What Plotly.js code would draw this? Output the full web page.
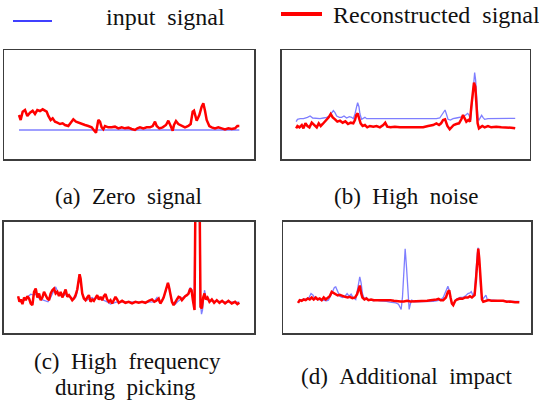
<!DOCTYPE html>
<html><head><meta charset="utf-8">
<script src="https://cdn.plot.ly/plotly-3.0.1.min.js"></script>
<style>html,body{margin:0;padding:0;background:#fff}#chart{width:539px;height:407px}</style>
</head><body><div id="chart"></div>
<script>
// ---- Data (sample index, amplitude in arbitrary units) ----
// (a) Zero signal
const aInputT = [0, 661];
const aInput = [0, 0];
const aReconT = [0,5,11,18,25,33,41,48,55,63,71,78,83,88,95,101,108,115,123,131,138,148,155,163,171,178,188,198,208,218,226,231,238,243,248,253,258,268,278,288,298,308,318,328,338,348,355,363,373,383,393,401,408,413,421,431,441,448,455,461,465,471,478,488,498,508,515,521,525,533,541,548,553,558,563,571,578,588,598,608,618,628,638,648,655,661];
const aRecon = [45,30,55,60,42,52,58,48,60,57,62,58,55,42,30,35,25,22,18,20,15,12,20,32,25,22,20,15,12,8,-2,-8,30,25,8,2,12,8,8,10,5,8,5,7,3,0,5,8,5,8,8,12,25,12,5,8,15,28,12,-2,15,27,18,12,8,12,18,55,58,28,45,70,80,58,30,12,8,5,8,5,2,5,3,5,12,12];

// (b) High noise
const bInputT = [0,4,12,22,34,42,50,62,72,82,92,100,107,112,117,122,130,137,144,152,160,167,172,177,182,185,189,192,197,202,207,212,222,242,262,282,302,322,342,362,382,402,422,432,438,444,448,452,457,464,472,482,492,502,510,516,520,525,530,534,537,540,544,547,550,554,558,562,567,577,592,612,632,647,659];
const bInput = [17,24,26,26,30,34,28,26,26,28,30,34,44,50,44,34,30,30,34,28,32,30,26,40,62,74,62,40,24,26,30,26,26,26,26,26,26,25,26,26,25,26,26,28,37,50,52,40,24,22,26,28,30,32,37,42,37,22,82,142,164,142,82,27,22,32,36,30,24,26,26,26,26,26,27];
const bReconT = [0,4,10,17,22,28,34,40,47,54,62,68,74,80,87,92,98,104,110,117,124,132,140,148,156,164,172,177,181,185,189,194,200,207,214,222,232,242,252,262,268,274,284,297,312,327,342,362,382,397,412,422,430,436,442,448,455,462,468,474,482,490,497,502,507,512,518,523,527,531,535,539,542,546,550,554,560,567,577,587,602,617,632,647,659];
const bRecon = [-3,4,0,7,-3,12,4,0,14,7,0,12,4,10,17,22,30,40,30,24,17,20,14,18,10,14,12,22,37,42,27,12,4,7,0,4,2,4,0,7,14,2,0,2,0,0,0,2,0,4,7,12,7,12,22,24,4,-6,0,7,10,12,24,37,27,17,22,17,62,112,134,122,72,12,-3,0,4,0,4,0,2,0,0,-1,-3];

// (c) High frequency during picking
const cInputT = [0,8,16,23,30,38,46,53,60,68,76,83,90,98,106,113,120,128,136,143,150,158,166,173,178,182,185,188,193,200,208,216,223,230,238,246,253,260,268,278,288,298,308,328,348,368,388,408,418,424,430,438,444,449,452,456,460,466,473,480,488,496,504,512,518,522,526,530,534,544,548,552,555,558,561,564,568,576,588,608,628,648,666];
const cInput = [13,5,3,10,17,23,20,23,13,7,5,3,0,13,30,45,27,23,17,23,20,13,10,13,30,63,80,67,25,7,5,10,13,7,13,10,7,5,0,-7,-3,0,0,-1,-1,-1,-1,0,13,0,-3,13,30,53,55,40,13,-3,-7,0,7,13,17,25,43,37,10,-20,475,475,5,-37,-25,20,35,20,7,3,3,1,-1,-1,-1];
const cReconT = [0,4,8,13,18,23,28,33,38,43,48,53,58,63,68,73,78,83,88,93,98,103,108,113,118,123,128,133,138,143,148,153,158,163,168,173,178,182,185,188,193,198,203,208,213,218,223,228,233,238,243,248,253,258,263,268,273,278,283,288,293,298,303,313,323,333,343,353,363,373,383,393,403,410,416,423,428,433,438,443,448,451,454,458,463,468,473,478,483,488,493,498,503,508,513,518,522,526,531,535,545,549,553,557,561,565,570,576,583,590,598,606,614,623,633,643,653,660,666];
const cRecon = [17,0,7,-7,13,5,17,10,-5,-10,30,40,13,25,5,13,30,20,10,5,25,35,40,25,30,17,30,13,25,37,15,20,13,5,10,20,37,65,83,70,25,10,5,13,20,0,7,3,13,20,7,15,5,17,23,7,0,5,-5,5,15,7,-3,3,-3,0,-5,0,-3,0,-3,3,7,0,3,10,-5,3,13,30,50,57,45,20,0,-10,-3,7,15,13,5,13,17,20,25,40,35,5,-25,475,475,-15,-20,13,25,7,13,0,7,-3,5,-3,3,-5,3,-5,0,-7,-3];

// (d) Additional impact
const dInputT = [0,7,15,25,33,39,45,51,57,65,75,85,91,97,103,109,113,119,125,133,141,147,153,159,165,173,177,181,185,189,193,199,205,211,217,225,235,245,255,265,275,285,293,301,305,309,313,317,321,325,329,333,337,341,347,355,365,375,385,395,405,415,425,435,443,449,453,457,461,465,471,477,485,493,501,509,515,519,525,529,533,537,540,543,547,551,555,559,563,567,575,585,595,605,615,625,635,650,663];
const dInput = [-6,2,4,6,10,22,17,7,4,4,2,0,2,14,27,40,42,27,14,10,14,22,14,20,10,4,27,57,72,54,22,4,10,2,4,0,2,0,0,-2,-4,-4,-6,-10,-18,-26,12,102,157,102,17,-26,-8,2,-3,-3,-4,-4,-4,-4,-2,0,2,10,27,44,32,10,-10,-14,2,6,10,10,14,22,24,28,14,27,97,142,160,122,42,10,7,14,17,4,2,2,0,0,0,-2,-2,-2,-2];
const dReconT = [0,5,11,17,23,29,35,41,47,53,59,65,71,77,83,89,95,101,107,113,119,125,133,141,149,155,163,171,177,181,185,189,193,199,205,211,219,227,237,247,257,267,277,287,297,307,317,327,337,347,357,367,377,387,397,407,415,421,427,435,443,449,453,457,461,465,471,477,485,493,501,509,515,521,525,529,533,537,540,543,547,551,555,563,571,579,587,595,605,615,625,635,650,663];
const dRecon = [-6,2,0,4,2,7,4,10,4,10,4,7,2,10,4,10,14,27,24,20,16,18,14,12,10,12,8,10,20,37,46,24,10,4,7,2,4,2,2,4,2,4,2,0,-2,-2,-2,0,-2,-2,-2,-2,0,0,2,2,4,6,2,2,10,27,32,10,-8,-13,0,4,7,6,10,10,14,10,14,17,62,132,157,127,42,4,-3,0,2,0,0,0,-2,0,-3,-2,-4,-4];

const legendLabels = ['input\u00a0\u00a0signal', 'Reconstructed\u00a0\u00a0signal'];
const captions = ['(a)\u00a0\u00a0Zero\u00a0\u00a0signal', '(b)\u00a0\u00a0High\u00a0\u00a0noise',
  '(c)\u00a0\u00a0High\u00a0\u00a0frequency', 'during\u00a0\u00a0picking', '(d)\u00a0\u00a0Additional\u00a0\u00a0impact'];

// ---- Styling / layout ----
const W = 539, H = 407;
const px = x => x / W, py = y => 1 - y / H;
const RED = '#ff0000', BLUE = 'rgba(40,40,255,0.6)';
const SERIF = 'Liberation Serif';

function recon(x, y, n) { return {x, y, xaxis: 'x' + n, yaxis: 'y' + n, type: 'scatter', mode: 'lines', line: {color: RED, width: 2.5}, hoverinfo: 'skip'}; }
function input(x, y, n) { return {x, y, xaxis: 'x' + n, yaxis: 'y' + n, type: 'scatter', mode: 'lines', line: {color: BLUE, width: 1.3}, hoverinfo: 'skip'}; }

const data = [
  input(aInputT, aInput, ''), recon(aReconT, aRecon, ''),
  input(bInputT, bInput, 2), recon(bReconT, bRecon, 2),
  input(cInputT, cInput, 3), recon(cReconT, cRecon, 3),
  input(dInputT, dInput, 4), recon(dReconT, dRecon, 4)
];

function ax(domain, range, anchor) {
  return {domain, range, anchor, showline: true, mirror: true, linecolor: '#3c3c3c', linewidth: 1.5,
    showgrid: false, zeroline: false, showticklabels: false, ticks: '', fixedrange: true};
}
const topY = [py(159), py(50)], botY = [py(333), py(221.5)];
const layout = {
  width: W, height: H, margin: {l: 0, r: 0, t: 0, b: 0}, showlegend: false,
  paper_bgcolor: '#fff', plot_bgcolor: '#fff',
  xaxis: ax([px(4), px(254)], [-45, 705], 'y'),
  yaxis: ax(topY, [-87, 240], 'x'),
  xaxis2: ax([px(281.5), px(529.5)], [-44, 702], 'y2'),
  yaxis2: ax(topY, [-95, 232], 'x2'),
  xaxis3: ax([px(3.5), px(254)], [-44, 710], 'y3'),
  yaxis3: ax(botY, [-94, 242], 'x3'),
  xaxis4: ax([px(283), px(531)], [-45, 698], 'y4'),
  yaxis4: ax(botY, [-97, 239], 'x4'),
  shapes: [
    {type: 'line', xref: 'paper', yref: 'paper', x0: px(13), x1: px(52), y0: py(21), y1: py(21), line: {color: '#0000ff', width: 1.5}},
    {type: 'line', xref: 'paper', yref: 'paper', x0: px(281), x1: px(322), y0: py(14), y1: py(14), line: {color: '#ff0000', width: 4}}
  ],
  annotations: [
    {text: legendLabels[0], x: px(165.5), y: py(17.5), xanchor: 'center', yanchor: 'middle', size: 24},
    {text: legendLabels[1], x: px(331), y: py(15), xanchor: 'left', yanchor: 'middle', size: 24},
    {text: captions[0], x: px(128), y: py(196), xanchor: 'center', yanchor: 'middle', size: 23},
    {text: captions[1], x: px(406), y: py(196), xanchor: 'center', yanchor: 'middle', size: 23},
    {text: captions[2], x: px(127.5), y: py(361), xanchor: 'center', yanchor: 'middle', size: 23},
    {text: captions[3], x: px(125), y: py(387), xanchor: 'center', yanchor: 'middle', size: 23},
    {text: captions[4], x: px(406), y: py(376), xanchor: 'center', yanchor: 'middle', size: 23}
  ].map(a => ({text: a.text, x: a.x, y: a.y, xref: 'paper', yref: 'paper', xanchor: a.xanchor, yanchor: a.yanchor,
    showarrow: false, font: {family: SERIF, size: a.size, color: '#111'}}))
};
Plotly.newPlot('chart', data, layout, {staticPlot: true, displayModeBar: false});
</script></body></html>
